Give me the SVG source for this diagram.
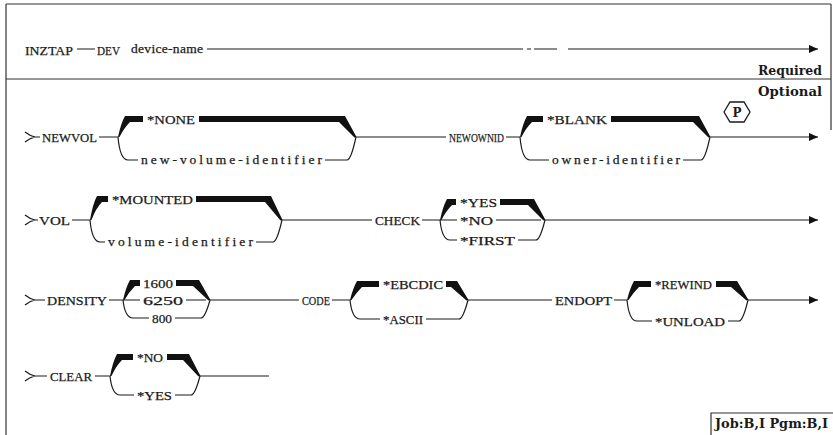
<svg xmlns="http://www.w3.org/2000/svg" width="833" height="435" viewBox="0 0 833 435">
<style>
.t{font-family:"Liberation Serif","Times New Roman",serif;font-size:13.5px;fill:#1a1a1a;stroke:#1a1a1a;stroke-width:0.25}
.b{font-family:"DejaVu Serif","Liberation Serif",serif;font-size:12px;font-weight:bold;fill:#1a1a1a}
.ln{fill:none;stroke:#1a1a1a;stroke-width:1.2}
.fr{fill:none;stroke:#333;stroke-width:1.2}
.tk{fill:#111;stroke:none}
.ar{fill:none;stroke:#1a1a1a;stroke-width:1.2;marker-end:url(#ah)}
</style>
<defs>
<marker id="ah" markerUnits="userSpaceOnUse" markerWidth="10" markerHeight="8" refX="9" refY="4" orient="auto"><path d="M0,0 L9,4 L0,8 Z" fill="#111"/></marker>
</defs>
<rect width="833" height="435" fill="#fff"/>
<g id="frame">
<path class="fr" d="M6,4 L831,4 M6,4 L6,435 M831,4 L831,130 M6,79 L831,79 M711,435 L711,413 L833,413"/>
</g>
<g id="connectors">
<path class="ln" d="M77,49 L95,49 M207,49 L523,49 M527,49 L531,49 M534,49 L557,49"/>
<path class="ar" d="M568,49 L818,49"/>
<path class="ln" d="M25,132 Q30,136 35,137 M25,142 Q30,138 35,137 M35,137 L40,137 M99,137 L118,137 M356,137 L446,137 M506,137 L520,137"/>
<path class="tk" d="M118,137 Q121,123 125,116 L143,116 L143,122 L130,122 Q124,128 119.5,137 Z"/>
<path class="tk" d="M199,116 L345,116 L356.5,137 L354.5,137.5 L339,122 L199,122 Z"/>
<path class="ln" d="M118,137 Q120,160 128,160 L138,160 M325,160 L347,160 Q351,160 356,137"/>
<path class="tk" d="M520,137 Q523,123 527,116 L543,116 L543,122 L532,122 Q526,128 521.5,137 Z"/>
<path class="tk" d="M611,116 L699,116 L710.5,137 L708.5,137.5 L693,122 L611,122 Z"/>
<path class="ln" d="M520,137 Q522,160 530,160 L549,160 M683,160 L701,160 Q705,160 710,137"/>
<path class="ar" d="M710,137 L818,137"/>
<path class="ln" d="M25,215 Q30,219 35,220 M25,225 Q30,221 35,220 M34,220 L38,220 M72,220 L90,220 M282,220 L372,220 M422,220 L440,220"/>
<path class="tk" d="M90,220 Q93,203 97,196 L108,196 L108,202 L102,202 Q96,208 91.5,220 Z"/>
<path class="tk" d="M196,196 L271,196 L282.5,220 L280.5,220.5 L265,202 L196,202 Z"/>
<path class="ln" d="M90,220 Q92,242 100,242 L105,242 M256,242 L273,242 Q277,242 282,220"/>
<path class="tk" d="M440,220 Q443,206 447,199 L456,199 L456,205 L452,205 Q446,211 441.5,220 Z"/>
<path class="tk" d="M500,199 L534,199 L545.5,220 L543.5,220.5 L528,205 L500,205 Z"/>
<path class="ln" d="M440,220 L457,220 M496,220 L541,220 M440,220 Q442,240 450,240 L457,240 M518,240 L536,240 Q540,240 545,220"/>
<path class="ar" d="M545,220 L818,220"/>
<path class="ln" d="M25,295 Q30,299 35,300 M25,305 Q30,301 35,300 M35,300 L45,300 M109,300 L123,300 M210,300 L299,300 M332,300 L350,300 M468,300 L552,300 M614,300 L627,300"/>
<path class="tk" d="M123,300 Q126,287 130,280 L140,280 L140,286 L135,286 Q129,292 124.5,300 Z"/>
<path class="tk" d="M176,280 L199,280 L210.5,300 L208.5,300.5 L193,286 L176,286 Z"/>
<path class="ln" d="M123,300 L140,300 M186,300 L206,300 M123,300 Q125,318 133,318 L149,318 M175,318 L201,318 Q205,318 210,300"/>
<path class="tk" d="M350,300 Q353,288 357,281 L379,281 L379,287 L362,287 Q356,293 351.5,300 Z"/>
<path class="tk" d="M446,281 L457,281 L468.5,300 L466.5,300.5 L451,287 L446,287 Z"/>
<path class="ln" d="M350,300 Q352,319 360,319 L380,319 M426,319 L459,319 Q463,319 468,300"/>
<path class="tk" d="M627,300 Q630,288 634,281 L651,281 L651,287 L639,287 Q633,293 628.5,300 Z"/>
<path class="tk" d="M716,281 L737,281 L748.5,300 L746.5,300.5 L731,287 L716,287 Z"/>
<path class="ln" d="M627,300 Q629,321 637,321 L652,321 M728,321 L739,321 Q743,321 748,300"/>
<path class="ar" d="M748,300 L818,300"/>
<path class="ln" d="M25,371 Q30,375 35,376 M25,381 Q30,377 35,376 M35,376 L47,376 M95,376 L110,376 M200,376 L269,376"/>
<path class="tk" d="M110,376 Q113,361 117,354 L133,354 L133,360 L122,360 Q116,366 111.5,376 Z"/>
<path class="tk" d="M167,354 L189,354 L200.5,376 L198.5,376.5 L183,360 L167,360 Z"/>
<path class="ln" d="M110,376 Q112,395 120,395 L134,395 M175,395 L191,395 Q195,395 200,376"/>
</g>
<g id="n-inztap"><text class="t" x="25" y="54.5" textLength="48" lengthAdjust="spacingAndGlyphs">INZTAP</text></g>
<g id="n-dev"><text class="t" x="97" y="54.5" textLength="23" lengthAdjust="spacingAndGlyphs">DEV</text></g>
<g id="n-devname"><text class="t" x="131" y="53" textLength="72" lengthAdjust="spacing">device-name</text></g>
<g id="n-required"><text class="b" x="758" y="74.5" textLength="64" lengthAdjust="spacingAndGlyphs">Required</text></g>
<g id="n-optional"><text class="b" x="758" y="95.5" textLength="64" lengthAdjust="spacingAndGlyphs">Optional</text></g>
<g id="n-newvol"><text class="t" x="42" y="141.5" textLength="55" lengthAdjust="spacingAndGlyphs">NEWVOL</text></g>
<g id="n-none"><text class="t" x="147" y="123.5" textLength="48" lengthAdjust="spacingAndGlyphs">*NONE</text></g>
<g id="n-newvolid"><text class="t" x="141" y="163.5" textLength="181" lengthAdjust="spacing">new-volume-identifier</text></g>
<g id="n-newownid"><text class="t" x="449" y="141.5" textLength="55" lengthAdjust="spacingAndGlyphs">NEWOWNID</text></g>
<g id="n-blank"><text class="t" x="547" y="123.5" textLength="60" lengthAdjust="spacingAndGlyphs">*BLANK</text></g>
<g id="n-ownerid"><text class="t" x="552" y="163.5" textLength="128" lengthAdjust="spacing">owner-identifier</text></g>
<g id="n-p"><polygon points="724,112 730,102 744,102 750,112 744,122 730,122" fill="none" stroke="#1a1a1a" stroke-width="1.3"/><text class="b" x="737" y="116.5" text-anchor="middle" font-size="12">P</text></g>
<g id="n-vol"><text class="t" x="39" y="224.5" textLength="31" lengthAdjust="spacingAndGlyphs">VOL</text></g>
<g id="n-mounted"><text class="t" x="112" y="203.5" textLength="81" lengthAdjust="spacingAndGlyphs">*MOUNTED</text></g>
<g id="n-volid"><text class="t" x="108" y="245.5" textLength="145" lengthAdjust="spacing">volume-identifier</text></g>
<g id="n-check"><text class="t" x="375" y="224.5" textLength="45" lengthAdjust="spacingAndGlyphs">CHECK</text></g>
<g id="n-yes1"><text class="t" x="460" y="206.5" textLength="37" lengthAdjust="spacingAndGlyphs">*YES</text></g>
<g id="n-no1"><text class="t" x="460" y="224.5" textLength="33" lengthAdjust="spacingAndGlyphs">*NO</text></g>
<g id="n-first"><text class="t" x="460" y="244.5" textLength="55" lengthAdjust="spacingAndGlyphs">*FIRST</text></g>
<g id="n-density"><text class="t" x="47" y="304.5" textLength="60" lengthAdjust="spacingAndGlyphs">DENSITY</text></g>
<g id="n-1600"><text class="t" x="143" y="287.5" textLength="30" lengthAdjust="spacingAndGlyphs">1600</text></g>
<g id="n-6250"><text class="t" x="143" y="304.5" textLength="40" lengthAdjust="spacingAndGlyphs">6250</text></g>
<g id="n-800"><text class="t" x="152" y="322.5" textLength="20" lengthAdjust="spacingAndGlyphs">800</text></g>
<g id="n-code"><text class="t" x="302" y="304.5" textLength="28" lengthAdjust="spacingAndGlyphs">CODE</text></g>
<g id="n-ebcdic"><text class="t" x="383" y="288.5" textLength="60" lengthAdjust="spacingAndGlyphs">*EBCDIC</text></g>
<g id="n-ascii"><text class="t" x="383" y="323.5" textLength="40" lengthAdjust="spacingAndGlyphs">*ASCII</text></g>
<g id="n-endopt"><text class="t" x="555" y="304.5" textLength="57" lengthAdjust="spacingAndGlyphs">ENDOPT</text></g>
<g id="n-rewind"><text class="t" x="655" y="288.5" textLength="57" lengthAdjust="spacingAndGlyphs">*REWIND</text></g>
<g id="n-unload"><text class="t" x="655" y="325.5" textLength="70" lengthAdjust="spacingAndGlyphs">*UNLOAD</text></g>
<g id="n-clear"><text class="t" x="50" y="380.5" textLength="42" lengthAdjust="spacingAndGlyphs">CLEAR</text></g>
<g id="n-no2"><text class="t" x="137" y="361.5" textLength="26" lengthAdjust="spacingAndGlyphs">*NO</text></g>
<g id="n-yes2"><text class="t" x="137" y="399.5" textLength="35" lengthAdjust="spacingAndGlyphs">*YES</text></g>
<g id="n-job"><text class="b" x="715" y="428" textLength="113" lengthAdjust="spacingAndGlyphs">Job:B,I Pgm:B,I</text></g>
</svg>
